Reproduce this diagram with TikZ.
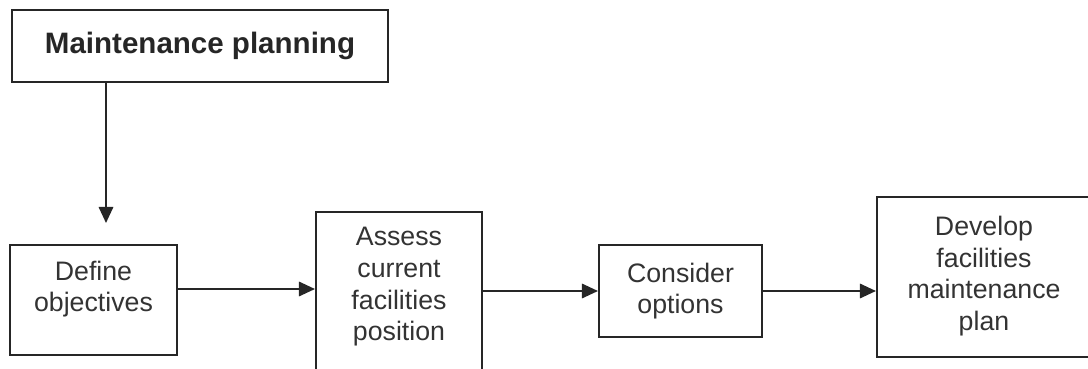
\documentclass[tikz,border=0pt]{standalone}
\usepackage{fontspec}
\setmainfont{Liberation Sans}
\usepackage{tikz}
\usetikzlibrary{positioning,calc,arrows.meta}
\tikzset{>={Triangle[length=0.4cm,width=0.36cm]}}
\tikzset{box/.style={draw=black!85,line width=1.4pt,rectangle,inner sep=0pt}}
\tikzset{txt/.style={align=center,text=black!80,font=\fontsize{19}{22.5}\selectfont}}
\newcommand*{\bt}[1]{\textbf{\fontsize{21}{24}\selectfont #1}}

\begin{document}
\begin{tikzpicture}[x=0.025cm,y=-0.025cm]
\useasboundingbox (0,0) rectangle (1088,369);
\clip (0,0) rectangle (1088,369);
% Draw top box
\node[box,minimum width=9.4cm,minimum height=1.8cm,text=black!85] (plan) at (200,46) {\bt{Maintenance planning}};
% Draw the four steps
\node[box,minimum width=4.175cm,minimum height=2.75cm] (define) at (93.5,300) {};
\node[txt] (define-t) at (93.5,289) {Define\\objectives};
\node[box,minimum width=4.15cm,minimum height=4.7cm] (assess) at (399,306) {};
\node[txt] (assess-t) at (399,287) {Assess\\current\\facilities\\position};
\node[box,txt,minimum width=4.075cm,minimum height=2.3cm] (consider) at (680.5,291) {Consider\\options};
\node[box,minimum width=8cm,minimum height=4cm] (develop) at (1037,277) {};
\node[txt] (develop-t) at (984,276) {Develop\\facilities\\maintenance\\plan};
% Draw arrows
\coordinate (drop) at (106,223);
\draw[->,line width=1.4pt,black!85] (plan.south -| drop) -- (drop);
\draw[->,line width=1.4pt,black!85] (define-t.east -| define.east) -- (define-t.east -| assess.west);
\draw[->,line width=1.4pt,black!85] (assess.east |- consider.west) -- (consider.west);
\draw[->,line width=1.4pt,black!85] (consider.east) -- (develop.west |- consider.east);
\end{tikzpicture}
\end{document}
